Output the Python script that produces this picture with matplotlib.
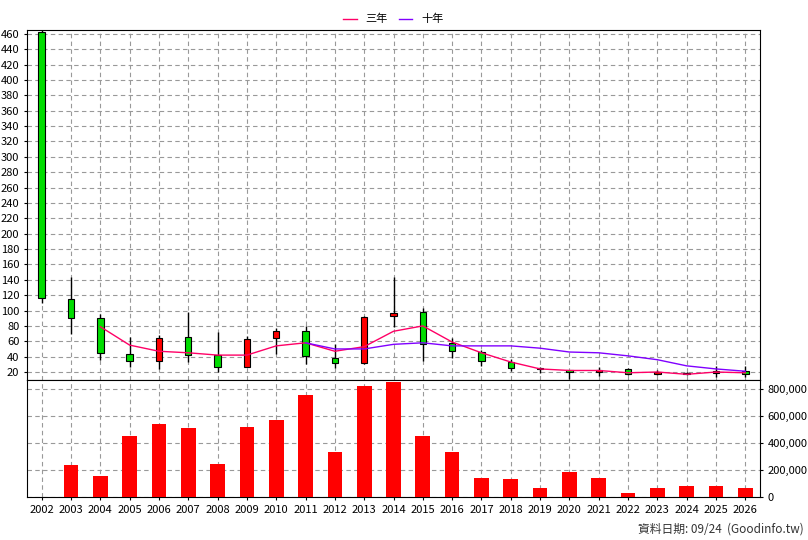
import matplotlib
matplotlib.use("Agg")
import matplotlib.pyplot as plt
import numpy as np

plt.rcParams['font.family'] = ['Noto Sans CJK TC', 'DejaVu Sans']

years = [str(y) for y in range(2002, 2027)]
opens  = [462,115,90,43,34,65,42,27,64,73,38,32,93,98,58,46,33,24,22,20,24,17,17,19,21]
closes = [116,90,45,34,64,42,27,63,73,41,32,92,97,56,47,34,25,24,20,22,17,20,19,21,17]
highs  = [465,144,95,66,68,98,72,67,77,80,56,93,144,103,64,49,37,27,22,27,25,22,20,28,28]
lows   = [110,69,36,27,24,33,20,27,43,30,25,31,79,34,38,28,21,19,11,15,16,16,16,13,13]
ma3  = [None,None,79,55,47,45,42,42,54,58,47,53,73,80,59,45,33,24,22,22,19,20,17,20,19]
ma10 = [None]*9 + [58,50,50,56,58,54,54,54,51,46,45,41,36,28,24,21]
volume = [1000,240000,153000,450000,545000,516000,247000,524000,575000,756000,335000,822000,858000,
          450000,335000,138000,131000,65000,189000,138000,29000,65000,80000,80000,65000]

fig = plt.figure(figsize=(8.08, 5.4), dpi=100)
L, W = 27/808, 733/808
ax = fig.add_axes([L, 1-380/540, W, 350/540])
axv = fig.add_axes([L, 1-497/540, W, 117/540], sharex=ax)
x = np.arange(len(years))

for i in x:
    o, c = opens[i], closes[i]
    col = '#ff0000' if c > o else '#00dd00'
    ax.vlines(i, lows[i], highs[i], color='black', lw=1, zorder=2)
    ax.bar(i, max(abs(c-o), 1.5), bottom=min(o, c), width=0.22, color=col,
           edgecolor='black', lw=0.8, zorder=3)

xm3 = [i for i in x if ma3[i] is not None]
ax.plot(xm3, [ma3[i] for i in xm3], color='#ff0066', lw=1, label='三年', zorder=4)
xm10 = [i for i in x if ma10[i] is not None]
ax.plot(xm10, [ma10[i] for i in xm10], color='#8000ff', lw=1, label='十年', zorder=4)

ax.set_ylim(9.6, 465)
ax.set_yticks(range(20, 461, 20))
ax.set_xlim(-0.5, 24.5)
for a in (ax, axv):
    a.grid(True, ls=(0, (4, 3)), color='#999999', lw=0.8)
    a.set_axisbelow(True)
    a.tick_params(labelsize=8, length=2)
ax.tick_params(labelbottom=False)
ax.legend(loc='lower center', bbox_to_anchor=(0.5, 1.0), ncol=2, frameon=False,
          fontsize=8, handlelength=1.2, columnspacing=1, borderaxespad=0.1)

axv.bar(x, volume, width=0.5, color='#ff0000', zorder=3)
axv.set_ylim(0, 870000)
axv.set_yticks(range(0, 800001, 200000))
axv.yaxis.tick_right()
axv.yaxis.set_major_formatter(matplotlib.ticker.FuncFormatter(lambda v, p: f"{int(v):,}"))
axv.set_xticks(x)
axv.set_xticklabels(years)

fig.text(0.995, 0.008, '資料日期: 09/24  (Goodinfo.tw)', ha='right', va='bottom', fontsize=8.5, color='#333333')
fig.savefig('out.png', dpi=100)
